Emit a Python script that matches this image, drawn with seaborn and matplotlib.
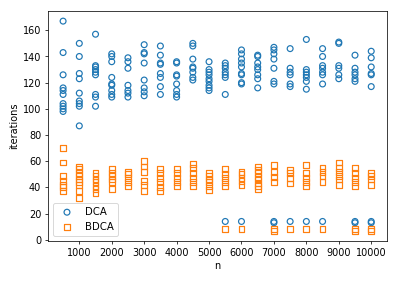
import matplotlib
matplotlib.use('Agg')
import matplotlib.pyplot as plt
import seaborn as sns
import pandas as pd

n_values = [500, 1000, 1500, 2000, 2500, 3000, 3500, 4000, 4500, 5000,
            5500, 6000, 6500, 7000, 7500, 8000, 8500, 9000, 9500, 10000]

# iterations per run, one list per n
dca_iters = [
    [167, 143, 126, 116, 114, 111, 104, 102, 100, 98],
    [150, 140, 127, 123, 112, 106, 104, 102, 87],
    [157, 133, 132, 130, 128, 126, 111, 109, 102],
    [142, 140, 136, 124, 119, 118, 114, 111, 109],
    [139, 136, 131, 118, 114, 112, 109],
    [149, 143, 142, 135, 122, 116, 113, 110],
    [148, 141, 135, 134, 127, 124, 117, 111],
    [136, 135, 126, 125, 119, 114, 111, 109],
    [150, 148, 138, 132, 131, 128, 124, 122],
    [136, 130, 128, 126, 123, 121, 118, 116, 114],
    [135, 133, 131, 128, 126, 124, 111, 14],
    [145, 142, 138, 135, 132, 127, 126, 120, 119, 14],
    [141, 140, 135, 132, 130, 126, 123, 116],
    [147, 145, 142, 138, 131, 121, 119, 14, 13],
    [146, 131, 128, 126, 119, 117, 14],
    [153, 130, 128, 126, 124, 121, 115, 14],
    [146, 140, 133, 131, 128, 126, 119, 14],
    [151, 150, 133, 131, 126, 123],
    [141, 131, 128, 126, 123, 121, 14, 13],
    [144, 139, 132, 127, 126, 117, 14, 13],
]

bdca_iters = [
    [70, 59, 49, 45, 42, 40, 37],
    [56, 54, 51, 49, 46, 44, 42, 37, 32],
    [51, 49, 46, 44, 41, 39, 36],
    [54, 51, 49, 46, 44, 39],
    [52, 50, 47, 44, 41],
    [60, 56, 52, 45, 42, 37],
    [54, 51, 47, 44, 40, 37],
    [54, 51, 47, 44, 41],
    [58, 55, 51, 47, 44, 41],
    [51, 49, 46, 44, 41, 38],
    [54, 50, 47, 44, 41, 8],
    [52, 50, 47, 45, 42, 8],
    [56, 53, 51, 48, 46, 43, 41, 39],
    [57, 52, 48, 44, 8, 7],
    [53, 51, 47, 43, 8],
    [57, 51, 47, 44, 41, 8],
    [55, 52, 49, 44, 8],
    [59, 55, 52, 49, 46, 42],
    [55, 51, 47, 44, 41, 8, 7],
    [51, 49, 46, 42, 8, 7],
]

dca = pd.DataFrame([(n, v) for n, vals in zip(n_values, dca_iters) for v in vals],
                   columns=['n', 'iterations'])
bdca = pd.DataFrame([(n, v) for n, vals in zip(n_values, bdca_iters) for v in vals],
                    columns=['n', 'iterations'])

plt.rcParams['font.size'] = 10.5
fig, ax = plt.subplots(figsize=(6, 4.226), dpi=66.5)
fig.subplots_adjust(left=0.1195, right=0.969, bottom=0.142, top=0.962)

sns.scatterplot(x='n', y='iterations', data=dca, marker='o', facecolors='none',
                edgecolor='C0', linewidth=1.3, s=40, label='DCA', ax=ax)
sns.scatterplot(x='n', y='iterations', data=bdca, marker='s', facecolors='none',
                edgecolor='C1', linewidth=1.3, s=40, label='BDCA', ax=ax)

ax.set_xticks(range(1000, 10001, 1000))
ax.set_yticks(range(0, 161, 20))
ax.set_xlabel('n')
ax.set_ylabel('iterations')
ax.legend(loc='lower left', fontsize=11)

fig.savefig('out.png', dpi=66.5)
